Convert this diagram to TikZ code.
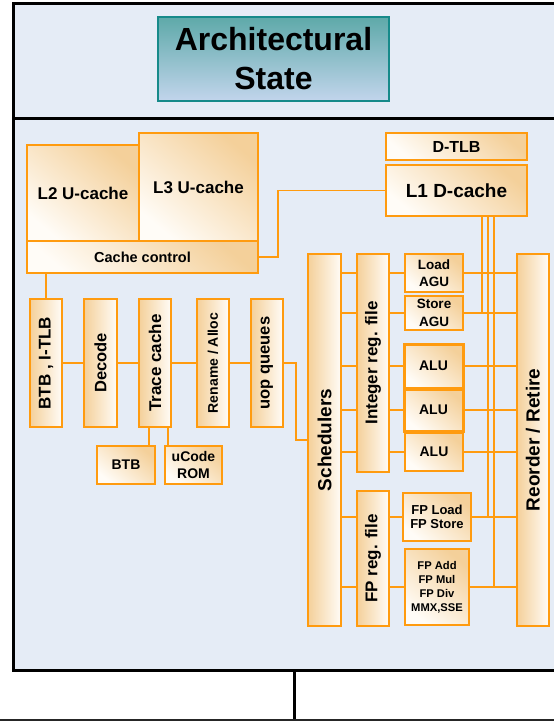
\documentclass[tikz,border=0pt]{standalone}
\usepackage{fontspec}
\setmainfont{Liberation Sans}
\definecolor{bgblue}{HTML}{E5ECF6}
\definecolor{ora}{HTML}{FF9B0F}
\definecolor{orafill}{HTML}{F4D09A}
\definecolor{oralight}{HTML}{FFFCF7}
\definecolor{tealtop}{HTML}{5EA9A9}
\definecolor{tealbot}{HTML}{C2D5EC}
\definecolor{tealedge}{HTML}{168A8A}
\newcommand\fsz[2]{\fontsize{#1}{#2}\selectfont}
\newcommand\ubox[7]{\node[#6, minimum width={(#4-#2)*1pt}, minimum height={(#5-#3)*1pt}] (#1) at ({(#2+#4)/2},{(#3+#5)/2}) {#7};}
\newcommand\vlab[3]{\node[vtext, font=\bfseries\fsz{#2}{#2}] (#1t) at (#1) {#3};}
\tikzset{
  unit/.style={draw=ora, line width=1.5pt, inner sep=0pt, align=center},
  hunit/.style={unit, shading=axis, top color=orafill, bottom color=oralight, shading angle=-40},
  vunit/.style={unit, left color=orafill, right color=oralight},
  vtext/.style={rotate=90, inner sep=0pt},
  wire/.style={draw=ora, color=ora, line width=1.6pt},
  archbox/.style={draw=tealedge, line width=2pt, top color=tealtop, bottom color=tealbot, inner sep=0pt, align=center, font=\bfseries\fsz{32}{39}},
}
\begin{document}
\begin{tikzpicture}[x=1pt,y=-1pt]
\useasboundingbox (0,0) rectangle (554,723);
% frame
\fill[bgblue] (13,3) rectangle (560,670);
\draw[line width=3pt] (560,3) -- (13,3) -- (13,670) -- (560,670);
\draw[line width=3pt] (13,118) -- (560,118);
\draw[line width=3pt] (294,670) -- (294,720);
\draw[line width=2pt, black!85] (-2,720) -- (556,720);
% architectural state
\ubox{arch}{158}{17}{389}{101}{archbox}{Architectural\\State}
% caches
\ubox{l2}{27}{145}{139}{241}{hunit, font=\bfseries\fsz{17}{20}}{L2 U-cache}
\ubox{l3}{139}{133}{258}{241}{hunit, font=\bfseries\fsz{17}{20}}{L3 U-cache}
\ubox{cc}{27}{241}{258}{273}{hunit, font=\bfseries\fsz{14.5}{17}}{Cache control}
\ubox{dtlb}{386}{133}{527}{160}{hunit, font=\bfseries\fsz{16}{19}}{D-TLB}
\ubox{l1}{386}{165}{527}{216}{hunit, font=\bfseries\fsz{19}{22}}{L1 D-cache}
% front end
\ubox{btb}{30}{299}{62}{427}{vunit}{}
\ubox{dec}{84}{299}{117}{427}{vunit}{}
\ubox{tc}{139}{299}{171}{427}{vunit}{}
\ubox{ra}{197}{299}{229}{427}{vunit}{}
\ubox{uop}{251}{299}{283}{427}{vunit}{}
\vlab{btb}{17}{BTB , I-TLB}
\vlab{dec}{16.5}{Decode}
\vlab{tc}{17}{Trace cache}
\vlab{ra}{14}{Rename / Alloc}
\vlab{uop}{16.5}{uop queues}
\ubox{btbs}{97}{446}{155}{484}{hunit, font=\bfseries\fsz{14}{17}}{BTB}
\ubox{uc}{165}{446}{222}{484}{hunit, font=\bfseries\fsz{14}{17}}{uCode\\ROM}
% back end
\ubox{sched}{308}{254}{341}{626}{vunit}{}
\ubox{ireg}{357}{254}{389}{472}{vunit}{}
\ubox{fpreg}{357}{491}{389}{626}{vunit}{}
\ubox{rr}{517}{254}{549}{626}{vunit}{}
\vlab{sched}{19}{Schedulers}
\vlab{ireg}{17}{Integer reg. file}
\vlab{fpreg}{17}{FP reg. file}
\vlab{rr}{19}{Reorder / Retire}
\ubox{lagu}{405}{254}{463}{292}{hunit, font=\bfseries\fsz{13.5}{17.5}}{Load\\AGU}
\ubox{sagu}{405}{296}{463}{330}{hunit, font=\bfseries\fsz{13.5}{17.5}}{Store\\AGU}
\ubox{alua}{404}{344}{463}{388}{hunit, line width=3pt, font=\bfseries\fsz{14}{17}}{ALU}
\ubox{alub}{404}{389}{463}{431}{hunit, line width=3pt, font=\bfseries\fsz{14}{17}}{ALU}
\ubox{aluc}{405}{433}{463}{471}{hunit, font=\bfseries\fsz{14}{17}}{ALU}
\ubox{fpls}{403}{493}{471}{541}{hunit, font=\bfseries\fsz{13}{14.5}}{FP Load\\FP Store}
\ubox{fpadd}{405}{549}{469}{625}{hunit, font=\bfseries\fsz{11.2}{14}}{FP Add\\FP Mul\\FP Div\\MMX,SSE}
% wires
\draw[wire] (cc.east) -- ++(19,0) |- (l1.west);
\draw[wire] (cc.south -| btb.north) -- (btb.north);
\draw[wire] (btb.east) -- (dec.west);
\draw[wire] (dec.east) -- (tc.west);
\draw[wire] (tc.east) -- (ra.west);
\draw[wire] (ra.east) -- (uop.west);
\draw[wire] (uop.east) -- ++(12,0) |- (sched.west);
\draw[wire] ([xshift=-6pt]tc.south) -- ([xshift=-6pt]tc.south |- btbs.north);
\draw[wire] ([xshift=13pt]tc.south) -- ([xshift=13pt]tc.south |- uc.north);
\foreach \uu/\rg in {lagu/ireg,sagu/ireg,alua/ireg,alub/ireg,aluc/ireg,fpls/fpreg,fpadd/fpreg}{
  \draw[wire] (sched.east |- \uu.west) -- (\rg.west |- \uu.west);
  \draw[wire] (\rg.east |- \uu.west) -- (\uu.west);
  \draw[wire] (\uu.east) -- (rr.west |- \uu.east);
}
\draw[wire] ([xshift=25.5pt]l1.south) -- ([xshift=25.5pt]l1.south |- sagu.east);
\draw[wire] ([xshift=31.5pt]l1.south) -- ([xshift=31.5pt]l1.south |- fpls.east);
\draw[wire] ([xshift=37.5pt]l1.south) -- ([xshift=37.5pt]l1.south |- fpadd.east);
\end{tikzpicture}
\end{document}
